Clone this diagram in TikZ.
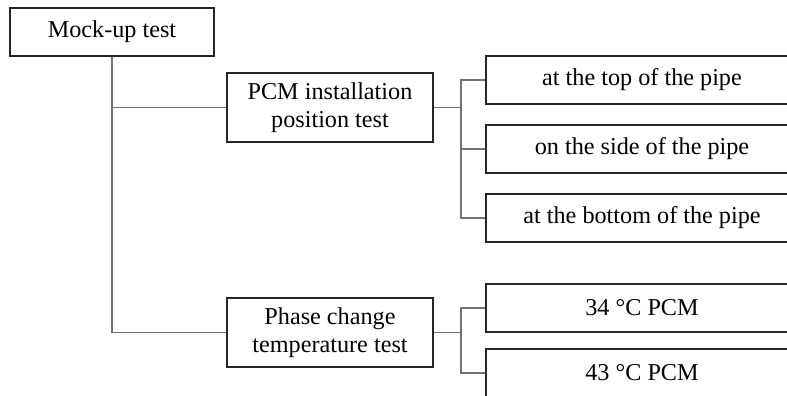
\documentclass[tikz,border=0pt]{standalone}
\usepackage{fontspec}
\setmainfont{Liberation Serif}
\begin{document}
\begin{tikzpicture}[x=1pt,y=-1pt,
  box/.style={draw=black!85,line width=1.4pt,inner sep=0pt,align=center,
    font=\fontsize{24.2}{28.5}\selectfont,text=black},
  conn/.style={draw=black!55,line width=1.1pt}]
\useasboundingbox (0,0) rectangle (787,396);
\clip (0,0) rectangle (787,396);
\node[box,minimum width=204pt,minimum height=48pt] (mock) at (112,32) {Mock-up test};
\node[box,minimum width=206pt,minimum height=69pt] (pcm) at (330,107.5) {PCM installation\\position test};
\node[box,minimum width=206pt,minimum height=69pt] (phase) at (330,332.5) {Phase change\\temperature test};
\node[box,minimum width=312pt,minimum height=48pt] (top) at (642,80) {at the top of the pipe};
\node[box,minimum width=312pt,minimum height=48pt] (side) at (642,149) {on the side of the pipe};
\node[box,minimum width=312pt,minimum height=48pt] (bot) at (642,218) {at the bottom of the pipe};
\node[box,minimum width=312pt,minimum height=48pt] (c34) at (642,308) {34 °C PCM};
\node[box,minimum width=312pt,minimum height=48pt] (c43) at (642,373) {43 °C PCM};
\coordinate (j1) at (461,107.5);
\coordinate (j2) at (461,332.5);
\draw[conn] (mock.south) |- (phase.west);
\draw[conn] (mock.south |- pcm.west) -- (pcm.west);
\draw[conn] (pcm.east) -- (j1);
\draw[conn] (top.west) -| (j1) |- (bot.west);
\draw[conn] (j1 |- side.west) -- (side.west);
\draw[conn] (phase.east) -- (j2);
\draw[conn] (c34.west) -| (j2) |- (c43.west);
\end{tikzpicture}
\end{document}
